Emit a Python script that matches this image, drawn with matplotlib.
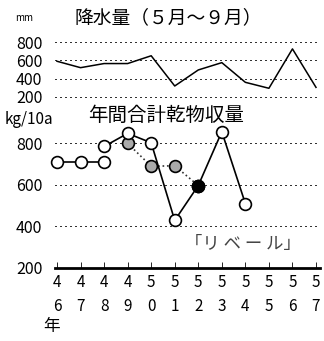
import matplotlib
matplotlib.use("Agg")
import matplotlib.pyplot as plt

plt.rcParams["font.family"] = ["Noto Sans CJK JP", "DejaVu Sans"]

years = [46, 47, 48, 49, 50, 51, 52, 53, 54, 55, 56, 57]
rain = [590, 520, 565, 565, 650, 320, 495, 575, 360, 295, 725, 305]

# 年間合計乾物収量 (kg/10a)
yield_a_years = [46, 47, 48]
yield_a = [712, 712, 712]
yield_b_years = [48, 49, 50, 51, 52, 53, 54]
yield_b = [785, 848, 803, 429, 597, 856, 510]
yield_c_years = [49, 50, 51, 52]
yield_c = [800, 690, 692, 597]

W, H = 324, 341
fig = plt.figure(figsize=(W / 100, H / 100), dpi=100)


def rect(left, top, right, bottom):
    return [left / W, 1 - bottom / H, (right - left) / W, (bottom - top) / H]


xlim = (45.915, 57.17)
grid_style = dict(color="#333333", ls=(0, (1.2, 2.6)), lw=1.0, zorder=1,
                  antialiased=False)

# ---- 降水量
ax1 = fig.add_axes(rect(55, 38, 320, 100))
ax1.plot(years, rain, color="black", lw=1.1, clip_on=False)
ax1.set_xlim(*xlim)
ax1.set_ylim(167, 844)
ax1.set_yticks([200, 400, 600, 800])
ax1.set_yticklabels(["200", "400", "600", "800"], fontsize=11.5)
ax1.tick_params(axis="y", length=0, pad=9)
ax1.set_xticks([])
for y in [200, 400, 600, 800]:
    ax1.axhline(y, **grid_style)
for s in ax1.spines.values():
    s.set_visible(False)
ax1.patch.set_alpha(0)

# ---- 乾物収量
ax2 = fig.add_axes(rect(55, 128, 320, 268))
mk = dict(ms=8.5, mec="black", mew=1.2, clip_on=False)
ax2.plot(yield_a_years, yield_a, "-o", color="black", lw=1.2,
         mfc="white", zorder=3, **mk)
ax2.plot(yield_c_years, yield_c, ":o", color="#333333", lw=1.2,
         mfc="#aaaaaa", zorder=2, **mk)
ax2.plot(yield_b_years, yield_b, "-o", color="black", lw=1.2,
         mfc="white", zorder=3, **mk)
ax2.plot([yield_b_years[4]], [yield_b[4]], "o", color="black", zorder=4, **mk)
ax2.set_xlim(*xlim)
ax2.set_ylim(200, 874)
ax2.set_yticks([200, 400, 600, 800])
ax2.set_yticklabels(["200", "400", "600", "800"], fontsize=11.5)
ax2.tick_params(axis="y", length=0, pad=9)
for y in [400, 600, 800]:
    ax2.axhline(y, **grid_style)
for name, s in ax2.spines.items():
    s.set_visible(name == "bottom")
ax2.spines["bottom"].set_linewidth(2)
ax2.set_xticks(years)
ax2.set_xticklabels([f"{y // 10}\n{y % 10}" for y in years],
                    fontsize=11, linespacing=1.6)
ax2.tick_params(axis="x", direction="in", length=4, width=0.6, pad=4)
ax2.patch.set_alpha(0)

# ---- テキスト
fig.text(15 / W, 1 - 18 / H, "mm", fontsize=7, va="center")
fig.text(75 / W, 1 - 18 / H, "降水量（５月～９月）", fontsize=13.5, va="center")
fig.text(5 / W, 1 - 120 / H, "kg/10a", fontsize=11, va="center")
fig.text(88 / W, 1 - 115 / H, "年間合計乾物収量", fontsize=14, va="center")
fig.text(185 / W, 1 - 244 / H, "「リ ベ ー ル」", fontsize=12.5, va="center",
         color="#444444")
fig.text(43 / W, 1 - 327 / H, "年", fontsize=12, va="center")

fig.savefig("out.png", dpi=100)
